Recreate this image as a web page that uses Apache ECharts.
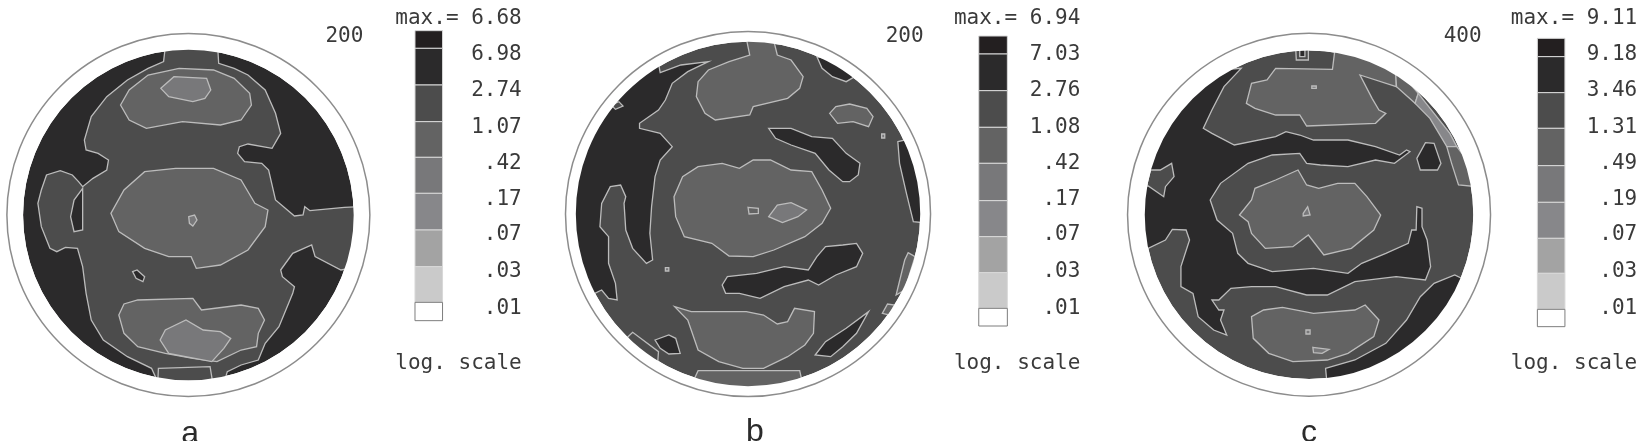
<!DOCTYPE html>
<html>
<head>
<meta charset="utf-8">
<style>html,body{margin:0;background:#fff}#main{width:1640px;height:441px}</style>
<script src="https://cdn.jsdelivr.net/npm/echarts@6/dist/echarts.min.js"></script>
</head>
<body>
<div id="main"></div>
<script>
// grey levels of the log scale, darkest first
var levels = ['#231f20', '#2b2a2b', '#4c4c4c', '#636363', '#78787a', '#87878a', '#a3a3a3', '#cacaca', '#ffffff'];

// scale labels
var labelsA = ['6.98', '2.74', '1.07', '.42', '.17', '.07', '.03', '.01'];
var labelsB = ['7.03', '2.76', '1.08', '.42', '.17', '.07', '.03', '.01'];
var labelsC = ['9.18', '3.46', '1.31', '.49', '.19', '.07', '.03', '.01'];

// contours of each pole figure: [level, [x,y], [x,y] ...], painted in order
var contoursA = [
  [2, [480,140],[475,185],[430,205],[370,240],[310,290],[265,350],[245,420],[250,450],[285,460],[315,480],[310,510],[270,535],[240,560],[228,545],[210,525],[175,512],[135,525],[120,570],[110,610],[120,680],[145,745],[165,755],[190,742],[225,745],[240,800],[250,880],[265,960],[300,1020],[370,1070],[440,1105],[460,1150],[650,1150],[660,1115],[700,1095],[750,1080],[770,1030],[810,980],[850,880],[855,860],[820,830],[815,810],[850,760],[905,735],[915,770],[990,810],[1045,800],[1045,620],[1000,622],[900,632],[885,620],[880,645],[855,648],[800,600],[780,510],[760,490],[710,485],[690,460],[695,440],[720,432],[790,445],[815,400],[800,340],[770,270],[720,225],[680,205],[635,190],[632,140]],
  [1, [240,565],[215,600],[205,650],[215,695],[240,690]],
  [3, [350,315],[375,270],[430,225],[520,205],[620,210],[680,235],[725,280],[730,315],[700,360],[640,375],[530,365],[425,385],[375,360]],
  [4, [467,265],[505,230],[600,235],[612,270],[595,295],[560,305],[490,290]],
  [3, [322,640],[360,570],[420,515],[510,505],[620,505],[700,540],[740,610],[778,630],[770,680],[720,750],[640,795],[570,805],[555,770],[490,770],[420,745],[345,695]],
  [4, [548,650],[565,645],[572,660],[560,678],[550,670]],
  [1, [385,815],[398,810],[420,830],[415,845],[395,835]],
  [3, [345,945],[360,912],[400,900],[560,895],[585,930],[700,915],[750,925],[768,960],[750,1000],[745,1040],[700,1050],[630,1085],[560,1075],[480,1060],[400,1040],[360,1000]],
  [4, [465,1020],[480,990],[540,960],[590,990],[640,995],[670,1015],[650,1045],[615,1085],[550,1072],[490,1060]],
  [2, [460,1105],[610,1100],[618,1150],[458,1150]]
];
var contoursB = [
  [1, [460,185],[380,195],[320,218],[315,190],[270,195],[180,240],[90,340],[50,500],[50,780],[110,885],[130,880],[150,870],[170,895],[195,900],[190,850],[170,790],[170,710],[145,680],[150,610],[175,560],[205,555],[220,590],[215,610],[220,690],[240,745],[280,790],[298,780],[290,700],[295,620],[305,530],[320,480],[355,440],[320,400],[260,385],[260,370],[315,330],[335,300],[355,250],[400,215]],
  [2, [178,315],[200,305],[212,318],[190,328]],
  [3, [570,115],[580,165],[520,185],[460,210],[430,245],[425,290],[450,340],[480,360],[580,345],[590,320],[690,295],[725,265],[735,230],[700,180],[660,165],[648,115]],
  [3, [812,340],[830,320],[870,312],[920,325],[938,350],[925,380],[880,365],[835,370]],
  [1, [775,170],[820,180],[885,230],[860,245],[820,230],[790,205]],
  [1, [635,385],[700,385],[760,410],[820,415],[860,460],[900,490],[895,525],[870,545],[850,545],[810,510],[770,460],[700,435],[655,415]],
  [4, [963,402],[972,402],[972,414],[963,414]],
  [1, [1010,425],[1030,420],[1085,540],[1085,668],[1055,665],[1035,580],[1015,490]],
  [3, [360,590],[385,530],[430,500],[500,490],[550,505],[590,480],[640,480],[700,510],[760,515],[790,570],[815,625],[790,670],[740,710],[650,750],[590,770],[520,768],[470,730],[390,710],[365,650]],
  [4, [635,650],[660,615],[700,608],[745,630],[720,650],[675,668]],
  [3, [575,622],[605,625],[605,640],[578,642]],
  [1, [500,855],[515,830],[600,820],[680,800],[750,810],[775,770],[800,740],[850,735],[890,730],[908,760],[890,800],[830,825],[780,855],[750,840],[680,860],[610,895],[550,880],[510,880]],
  [4, [335,803],[345,803],[345,813],[335,813]],
  [3, [362,920],[410,935],[570,935],[620,945],[660,972],[690,965],[710,925],[768,935],[765,1000],[740,1035],[690,1070],[620,1105],[560,1105],[490,1085],[430,1050],[410,990],[400,960]],
  [1, [305,1020],[345,1005],[365,1015],[378,1060],[345,1062],[320,1045]],
  [2, [225,1012],[240,997],[315,1055],[312,1100],[280,1090]],
  [3, [420,1135],[430,1112],[725,1112],[730,1135],[640,1170],[500,1170]],
  [3, [1005,885],[1030,780],[1040,758],[1060,770],[1030,870]],
  [3, [965,940],[980,912],[1000,915],[985,945]],
  [1, [770,1065],[800,1025],[860,985],[925,935],[890,1000],[850,1040],[815,1070]]
];
var contoursC = [
  [1, [410,205],[360,260],[325,330],[300,385],[325,400],[390,435],[510,410],[540,395],[580,405],[620,420],[720,420],[800,440],[870,465],[890,450],[900,455],[855,490],[800,480],[720,500],[640,495],[600,490],[580,460],[500,465],[430,490],[350,550],[320,600],[340,660],[385,700],[400,760],[430,790],[500,815],[620,805],[720,820],[760,790],[830,760],[895,730],[905,690],[918,690],[920,620],[935,625],[935,680],[950,720],[960,800],[945,840],[860,830],[740,845],[660,885],[600,885],[510,860],[440,860],[380,865],[345,900],[325,900],[345,930],[360,930],[350,960],[368,1005],[330,990],[285,950],[270,880],[235,860],[235,800],[260,720],[250,690],[210,688],[190,720],[140,745],[100,740],[100,558],[140,558],[185,590],[190,560],[215,530],[208,490],[175,510],[140,510],[100,510],[150,400],[250,270],[340,210]],
  [1, [655,1105],[740,1080],[830,1030],[890,960],[930,890],[970,850],[1030,825],[1060,840],[1000,960],[900,1070],[780,1140],[660,1160]],
  [3, [425,310],[440,250],[485,240],[510,205],[675,208],[682,150],[700,125],[860,150],[860,260],[755,225],[790,295],[810,330],[830,340],[800,370],[600,378],[580,345],[510,345],[450,325]],
  [4, [615,258],[628,258],[628,265],[615,265]],
  [3, [405,645],[440,600],[450,565],[510,540],[575,510],[600,555],[635,565],[690,550],[740,550],[775,590],[815,645],[795,690],[730,745],[650,765],[605,705],[560,740],[480,745],[440,700],[430,665]],
  [4, [590,640],[603,620],[610,645],[590,648]],
  [1, [920,475],[945,428],[970,430],[990,490],[980,510],[930,510]],
  [3, [440,950],[475,930],[530,922],[620,940],[740,930],[770,915],[810,960],[795,1010],[720,1060],[660,1080],[560,1085],[490,1060],[445,1015]],
  [4, [598,990],[610,990],[610,1002],[598,1002]],
  [4, [618,1042],[665,1048],[645,1060],[620,1058]],
  [2, [568,140],[605,140],[605,180],[570,180]],
  [1, [580,145],[595,145],[595,170],[580,170]],
  [3, [857,200],[924,280],[915,310],[861,260]],
  [5, [924,280],[1016,400],[1036,440],[1007,440],[958,355],[915,310]],
  [3, [1007,440],[1036,440],[1095,520],[1095,560],[1041,555],[1021,490]]
];

// per panel: contours, base level, disc, ring, scale bar and text anchors
var panels = [
  {left: 0, contours: contoursA, base: 1, cx: 547, cy: 645, discX: 480, discY: 495, ringX: 527, ringY: 546,
   barX: [1205, 1285], stops: [92,145,255,365,472,580,690,800,907,962], labels: labelsA,
   textRight: 1515, labelY: [165,273,383,490,600,703,815,925], max: 'max.= 6.68', maxY: 55, scaleY: 1090,
   pole: '200', poleX: 1055, poleY: 110, caption: 'a', capX: 552, capY: 1302},
  {left: 550, contours: contoursB, base: 2, cx: 575, cy: 642, discX: 500, discY: 516, ringX: 530, ringY: 546,
   barX: [1245, 1328], stops: [108,162,272,382,490,602,710,818,925,978], labels: labelsB,
   textRight: 1540, labelY: [165,273,383,490,600,703,815,925], max: 'max.= 6.94', maxY: 55, scaleY: 1090,
   pole: '200', poleX: 1085, poleY: 110, caption: 'b', capX: 595, capY: 1296},
  {left: 1100, contours: contoursC, base: 2, cx: 607, cy: 644, discX: 477, discY: 496, ringX: 527, ringY: 546,
   barX: [1270, 1350], stops: [115,170,278,385,497,607,715,820,928,980], labels: labelsC,
   textRight: 1560, labelY: [165,273,383,490,600,703,815,925], max: 'max.= 9.11', maxY: 55, scaleY: 1090,
   pole: '400', poleX: 1108, poleY: 110, caption: 'c', capX: 607, capY: 1300}
];

var monoFont = '"DejaVu Sans Mono", monospace';

function monoText(api, x, y, str, align) {
  var p = api.coord([x, y]);
  return {type: 'text', x: p[0], y: p[1], style: {text: str, fill: '#3a3a3a', font: '21px ' + monoFont, align: align, verticalAlign: 'middle'}};
}

function renderPanel(params, api) {
  var panel = panels[params.seriesIndex];
  var kids = [];
  var c = api.coord([panel.cx, panel.cy]);
  var discR = api.size([panel.discX, 0])[0];
  var ringR = api.size([panel.ringX, 0])[0];

  kids.push({type: 'circle', shape: {cx: c[0], cy: c[1], r: discR}, style: {fill: levels[panel.base]}});
  panel.contours.forEach(function (item) {
    var pts = item.slice(1).map(function (pt) { return api.coord(pt); });
    kids.push({type: 'polygon', shape: {points: pts}, style: {fill: levels[item[0]], stroke: '#bcbcbc', lineWidth: 1.3}});
  });
  // white band hides whatever runs past the disc, then the thin outer ring
  kids.push({type: 'circle', shape: {cx: c[0], cy: c[1], r: discR + 12}, style: {fill: 'none', stroke: '#fff', lineWidth: 24}});
  kids.push({type: 'circle', shape: {cx: c[0], cy: c[1], r: ringR}, style: {fill: 'none', stroke: '#8c8c8c', lineWidth: 1.5}});

  // scale bar
  for (var i = 0; i < levels.length; i++) {
    var a = api.coord([panel.barX[0], panel.stops[i]]);
    var b = api.coord([panel.barX[1], panel.stops[i + 1]]);
    kids.push({type: 'rect', shape: {x: a[0], y: a[1], width: b[0] - a[0], height: b[1] - a[1]}, style: {fill: levels[i], stroke: i < 8 ? '#d8d8d8' : '#7d7d7d', lineWidth: 1}});
  }

  panel.labels.forEach(function (t, i) {
    kids.push(monoText(api, panel.textRight, panel.labelY[i], t, 'right'));
  });
  kids.push(monoText(api, panel.textRight, panel.maxY, panel.max, 'right'));
  kids.push(monoText(api, panel.textRight, panel.scaleY, 'log. scale', 'right'));
  kids.push(monoText(api, panel.poleX, panel.poleY, panel.pole, 'right'));

  var cap = api.coord([panel.capX, panel.capY]);
  kids.push({type: 'text', x: cap[0], y: cap[1], style: {text: panel.caption, fill: '#2b2b2b', font: '32px "Liberation Sans", Arial, sans-serif', align: 'center', verticalAlign: 'middle'}});
  return {type: 'group', children: kids};
}

var myChart = echarts.init(document.getElementById('main'), null, {renderer: 'canvas'});
myChart.setOption({
  animation: false,
  backgroundColor: '#fff',
  tooltip: {show: false},
  grid: panels.map(function (p) {
    return {left: p.left, top: 0, width: 540, height: 441};
  }),
  xAxis: panels.map(function (p, i) {
    return {type: 'value', gridIndex: i, min: 0, max: 1568, show: false};
  }),
  yAxis: panels.map(function (p, i) {
    return {type: 'value', gridIndex: i, min: 0, max: 1323, inverse: true, show: false};
  }),
  series: panels.map(function (p, i) {
    return {type: 'custom', xAxisIndex: i, yAxisIndex: i, clip: false, silent: true, data: [[0, 0]], renderItem: renderPanel};
  })
});
</script>
</body>
</html>
